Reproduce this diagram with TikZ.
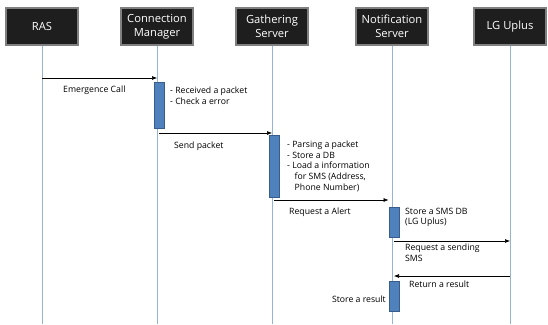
\documentclass[tikz,border=0pt]{standalone}
\usepackage{fontspec}
\setmainfont{Open Sans}
\usetikzlibrary{arrows.meta}
\definecolor{headfill}{RGB}{30,30,30}
\definecolor{headline}{RGB}{128,128,128}
\definecolor{lifeblue}{RGB}{149,179,215}
\definecolor{actfill}{RGB}{79,129,189}
\definecolor{actline}{RGB}{56,93,138}
\tikzset{
	head/.style={draw=headline,line width=1.2pt,fill=headfill,text=white,minimum width=72,minimum height=37,inner sep=1pt,align=center,font=\fontsize{11.2}{13.8}\selectfont},
	lifeline/.style={draw=lifeblue,line width=0.8pt},
	act/.style={draw=actline,fill=actfill,line width=1pt,minimum width=10,inner sep=0pt},
	msg/.style={-{Latex[length=5pt,width=4pt]},line width=0.6pt},
	note/.style={align=left,inner sep=0pt,font=\fontsize{8.7}{10.7}\selectfont}
}
\begin{document}
\begin{tikzpicture}[x=1pt,y=-1pt]
\useasboundingbox (0,0) rectangle (548,324);
\node[head] (ras) at (42,26.5) {RAS};
\node[head] (cm) at (157,26.5) {Connection\\Manager};
\node[head] (gs) at (272,26.5) {Gathering\\Server};
\node[head] (ns) at (392,26.5) {Notification\\Server};
\node[head] (lg) at (510,26.5) {LG Uplus};
\foreach \n in {ras,cm,gs,ns,lg} {
	\coordinate (\n end) at (\n.south |- 0,324);
	\draw[lifeline] (\n.south) -- (\n end);
}
\node[act,minimum height=46] (cmact) at (159,105) {};
\node[act,minimum height=62] (gsact) at (274,166) {};
\node[act,minimum height=30] (nsact) at (394,222) {};
\node[act,minimum height=30] (nsres) at (394,296) {};
% messages
\coordinate (call from) at (ras.south |- 0,78);
\coordinate (call to) at (cm.south |- 0,78);
\coordinate (send from) at (cmact.south |- 0,133);
\coordinate (send to) at (gs.south |- 0,133);
\coordinate (alert from) at (gsact.south |- 0,200);
\coordinate (alert to) at (nsact.north west |- 0,200);
\coordinate (sms from) at (nsact.south |- 0,241);
\coordinate (sms to) at (lg.south |- 0,241);
\coordinate (result from) at (lg.south |- 0,276);
\coordinate (result to) at (nsres.north |- 0,276);
\draw[msg] (call from) -- (call to);
\draw[msg] (send from) -- (send to);
\draw[msg] (alert from) -- (alert to);
\draw[msg] (sms from) -- (sms to);
\draw[msg] (result from) -- (result to);
% labels
\node[note,anchor=west] (call) at (63,90) {Emergence Call};
\node[note,anchor=north west] (cmnote) at (170,86.5) {- Received a packet\\- Check a error};
\node[note,anchor=west] (send) at (174,146) {Send packet};
\node[note,anchor=north west] (gsnote) at (287,140.5) {- Parsing a packet\\- Store a DB\\- Load a information\\\hspace*{7.5pt}for SMS (Address,\\\hspace*{7.5pt}Phone Number)};
\node[note,anchor=west] (alert) at (289,212) {Request a Alert};
\node[note,anchor=north west] (nsnote) at (405,207.5) {Store a SMS DB\\(LG Uplus)};
\node[note,anchor=north west] (sms) at (405,243.5) {Request a sending\\SMS};
\node[note,anchor=west] (result) at (409,284) {Return a result};
\node[note,anchor=east] (store) at (386,299) {Store a result};
\end{tikzpicture}
\end{document}
